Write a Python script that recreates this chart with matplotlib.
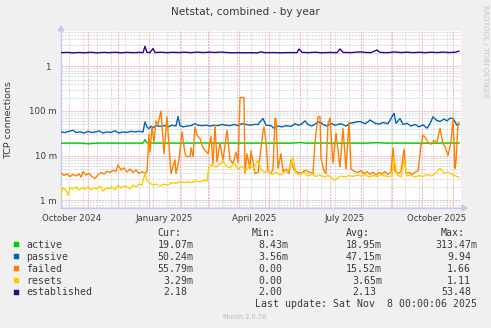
import datetime as dt
import numpy as np
import matplotlib
matplotlib.use("Agg")
import matplotlib.pyplot as plt
from matplotlib.patches import Rectangle, Polygon

# ---------------------------------------------------------------- data
START = dt.datetime(2024, 10, 5)
END = START + dt.timedelta(days=400)

# (day offset from START, value in milli-connections)
active = [(0, 19.0), (10, 19.1), (20, 19.0), (27, 18.4), (35, 19.0), (45, 19.1),
          (55, 19.0), (65, 19.0), (75, 19.1), (82, 19.0), (84, 23.0), (86, 19.3),
          (95, 19.0), (110, 19.1), (125, 19.0), (140, 19.2), (155, 19.0), (170, 19.1),
          (185, 19.0), (200, 19.1), (215, 19.0), (230, 19.0), (239, 19.6), (245, 19.0),
          (260, 19.1), (275, 19.0), (290, 19.1), (305, 19.0), (317, 19.5), (325, 19.0),
          (340, 19.1), (355, 19.0), (370, 19.0), (385, 19.1), (398, 19.07)]

passive = [(0, 34), (4, 33), (8, 35), (12, 37), (15, 33), (19, 34), (23, 32), (27, 35),
           (31, 33), (35, 34), (38, 36), (42, 32), (46, 34), (50, 33), (54, 36), (58, 32),
           (62, 34), (66, 33), (70, 35), (74, 34), (78, 35), (82, 34), (84, 57), (86, 44),
           (88, 40), (90, 46), (92, 42), (95, 47), (99, 45), (103, 47), (107, 44), (111, 48),
           (115, 46), (117, 75), (119, 47), (122, 44), (126, 46), (130, 47), (134, 52),
           (137, 48), (141, 47), (145, 48), (149, 46), (153, 48), (157, 47), (161, 50),
           (165, 48), (169, 47), (173, 50), (177, 47), (181, 52), (185, 50), (189, 48),
           (193, 50), (197, 50), (202, 68), (205, 48), (210, 47), (213, 41), (217, 46),
           (221, 44), (225, 47), (230, 45), (234, 52), (237, 48), (240, 50), (244, 60),
           (247, 50), (251, 46), (255, 53), (259, 57), (262, 50), (266, 46), (270, 53),
           (274, 48), (277, 50), (280, 52), (285, 46), (289, 53), (293, 55), (297, 58),
           (300, 57), (304, 52), (307, 57), (309, 63), (314, 53), (318, 51), (322, 55),
           (327, 52), (333, 89), (335, 53), (339, 68), (342, 50), (346, 53), (350, 46),
           (354, 50), (358, 44), (362, 49), (366, 41), (369, 52), (372, 74), (375, 63),
           (379, 58), (383, 66), (386, 60), (389, 69), (392, 68), (396, 48), (398, 50.24)]

failed = [(0, 4.1), (3, 3.6), (6, 3.9), (9, 3.4), (12, 3.8), (15, 3.5), (18, 3.9), (20, 3.3),
          (22, 4.4), (25, 3.7), (28, 4.0), (31, 3.4), (34, 3.1), (37, 3.7), (40, 4.2),
          (43, 3.9), (46, 4.5), (49, 4.2), (52, 4.7), (55, 4.4), (57, 6.2), (60, 4.8),
          (63, 5.3), (66, 4.3), (69, 5.0), (72, 4.2), (75, 4.8), (78, 4.0), (81, 4.4),
          (84, 4.0), (86, 4.5), (88, 30), (89, 12), (91, 45), (93, 20), (95, 60), (97, 50),
          (99, 80), (100, 100), (103, 11), (106, 74), (110, 4.0), (114, 8.0), (115, 4.0),
          (118, 8.0), (121, 34), (124, 11), (126, 9.5), (129, 9.5), (130, 15), (132, 9.5),
          (134, 44), (136, 29), (139, 24), (142, 15), (147, 11), (150, 27), (152, 6.7),
          (154, 48), (156, 7.3), (159, 19), (162, 8.0), (166, 37), (169, 8.0), (172, 6.7),
          (175, 12), (177, 7.0), (179, 200), (183, 200), (184, 4.0), (186, 11), (189, 5.2),
          (190, 13), (194, 4.0), (197, 4.2), (199, 10), (202, 34), (203, 44), (205, 20),
          (207, 4.5), (210, 4.0), (212, 5.0), (214, 68), (215, 68), (217, 5.2), (220, 11),
          (222, 4.4), (225, 5.0), (228, 4.0), (230, 8.0), (232, 5.5), (234, 4.5), (237, 4.2),
          (240, 4.0), (244, 4.7), (248, 4.3), (252, 4.0), (254, 20), (257, 74), (259, 74),
          (260, 8.7), (263, 4.5), (265, 4.0), (267, 53), (269, 69), (272, 6.8), (275, 32),
          (279, 5.6), (282, 41), (285, 5.0), (288, 57), (290, 5.0), (293, 4.5), (297, 4.2),
          (300, 4.6), (303, 4.0), (306, 4.4), (309, 3.8), (312, 4.3), (315, 3.7), (318, 4.2),
          (321, 3.9), (324, 4.4), (327, 3.8), (330, 4.3), (332, 15), (334, 4.5), (337, 4.0),
          (340, 4.4), (343, 14), (345, 4.0), (348, 4.2), (351, 3.8), (354, 4.3), (357, 4.5),
          (360, 17), (362, 29), (364, 26), (367, 20), (370, 18), (373, 22), (376, 20),
          (379, 41), (382, 18), (384, 16), (387, 10), (390, 20), (392, 68), (394, 5.2),
          (395, 7.3), (397, 53), (398, 55.79)]

resets = [(0, 1.4), (2, 1.9), (5, 1.7), (7, 1.3), (9, 1.9), (12, 1.8), (15, 2.0), (18, 1.7),
          (21, 1.9), (24, 1.8), (27, 2.0), (30, 1.7), (33, 1.9), (36, 1.8), (39, 2.1),
          (42, 1.6), (45, 1.9), (48, 1.8), (51, 2.0), (54, 1.7), (57, 2.2), (60, 1.9),
          (63, 2.1), (66, 2.0), (69, 1.8), (72, 2.2), (75, 2.0), (78, 2.3), (81, 2.2),
          (84, 4.0), (86, 2.8), (89, 2.4), (92, 2.2), (95, 2.3), (99, 2.1), (103, 2.3),
          (107, 2.2), (111, 2.5), (115, 2.4), (119, 2.6), (123, 2.5), (127, 2.6), (131, 2.5),
          (135, 2.7), (139, 2.6), (143, 2.8), (146, 2.7), (148, 5.7), (151, 6.3), (155, 5.5),
          (159, 6.5), (162, 7.6), (165, 6.0), (169, 5.3), (173, 6.8), (177, 5.0), (181, 5.8),
          (185, 4.6), (189, 6.2), (193, 5.2), (197, 8.0), (200, 5.0), (203, 4.2), (207, 4.6),
          (211, 3.8), (215, 4.3), (219, 3.7), (223, 4.2), (227, 4.4), (232, 9.0), (235, 4.0),
          (239, 3.8), (243, 4.2), (247, 3.5), (251, 3.9), (255, 3.4), (259, 3.7), (263, 3.3),
          (267, 3.6), (271, 3.2), (273, 2.8), (276, 3.1), (280, 3.5), (284, 3.3), (288, 3.6),
          (292, 3.4), (296, 3.7), (300, 3.5), (304, 3.8), (308, 3.3), (312, 3.6), (316, 3.4),
          (320, 3.7), (324, 3.5), (328, 3.4), (331, 3.6), (333, 9.0), (336, 3.8), (340, 3.3),
          (343, 8.0), (346, 3.5), (350, 3.7), (354, 3.3), (358, 3.6), (362, 3.4), (366, 3.8),
          (370, 3.5), (374, 3.9), (379, 5.2), (383, 4.0), (387, 4.3), (391, 3.8), (395, 3.5),
          (398, 3.29)]

# established is in whole connections
established = [(0, 2.02), (6, 2.05), (12, 2.0), (18, 2.04), (24, 2.01), (30, 2.06), (36, 2.0),
               (42, 2.05), (48, 2.02), (54, 2.06), (60, 2.01), (66, 2.05), (72, 2.02),
               (78, 2.05), (82, 2.02), (84, 2.8), (86, 2.05), (89, 2.03), (92, 2.5), (94, 2.03),
               (100, 2.07), (106, 2.02), (112, 2.06), (118, 2.03), (124, 2.07), (130, 2.02),
               (136, 2.08), (142, 2.03), (148, 2.07), (154, 2.04), (160, 2.08), (166, 2.03),
               (172, 2.01), (178, 2.02), (184, 2.01), (190, 2.02), (196, 2.0), (200, 2.1),
               (204, 2.02), (212, 2.03), (220, 2.01), (228, 2.03), (236, 2.02), (238, 2.44),
               (241, 2.05), (248, 2.02), (254, 2.07), (260, 2.01), (268, 2.04), (276, 2.02),
               (279, 2.44), (282, 2.05), (290, 2.02), (296, 2.08), (300, 2.1), (304, 2.04),
               (310, 2.02), (316, 2.32), (319, 2.05), (326, 2.02), (334, 2.09), (340, 2.03),
               (346, 2.07), (352, 2.02), (358, 2.06), (364, 2.02), (370, 2.07), (376, 2.03),
               (382, 2.08), (388, 2.03), (394, 2.06), (398, 2.18)]

names = ["active", "passive", "failed", "resets", "established"]
colors = ["#00CC00", "#0066B3", "#FF8000", "#FFCC00", "#330099"]
series = [active, passive, failed, resets, established]
scales = [1e-3, 1e-3, 1e-3, 1e-3, 1.0]

cur = ["19.07m", "50.24m", "55.79m", "3.29m", "2.18"]
mins = ["8.43m", "3.56m", "0.00", "0.00", "2.00"]
avgs = ["18.95m", "47.15m", "15.52m", "3.65m", "2.13"]
maxs = ["313.47m", "9.94", "1.66", "1.11", "53.48"]

ytick_vals = [1e-3, 1e-2, 1e-1, 1.0]
ytick_labels = ["1 m", "10 m", "100 m", "1  "]
xtick_months = [(2024, 10, "October 2024"), (2025, 1, "January 2025"),
                (2025, 4, "April 2025"), (2025, 7, "July 2025"),
                (2025, 10, "October 2025")]

# ---------------------------------------------------------------- figure
W, H = 491, 328
BG = "#F0F0F0"
TXT = "#3A3A3A"
AXIS = "#C4C8F2"
RED = "#F5B8B8"
GRAY = "#DCDCDC"

fig = plt.figure(figsize=(W / 100, H / 100), dpi=100, facecolor=BG)


def fx(px):
    return px / W


def fy(py):
    return 1 - py / H


ax = fig.add_axes([fx(61), fy(208), fx(400), 177 / H])
ax.set_facecolor("white")
ax.set_yscale("log")
ax.set_xlim(START, END)
ax.set_ylim(6.73e-4, 6.17)

DASH = (0, (2, 1))
# grid: minor every two weeks, major at each month
d = dt.datetime(2024, 10, 13)
while d < END:
    ax.axvline(d, color=GRAY, lw=0.75, ls=DASH, zorder=1)
    d += dt.timedelta(days=14)
for y in range(2024, 2026):
    for m in range(1, 13):
        md = dt.datetime(y, m, 1)
        if START < md < END:
            ax.axvline(md, color=RED, lw=0.75, ls=DASH, zorder=1.2)
for e in range(-4, 1):
    for k in range(2, 10):
        ax.axhline(k * 10.0 ** e, color=GRAY, lw=0.75, ls=DASH, zorder=1)
for v in ytick_vals:
    ax.axhline(v, color=RED, lw=0.75, ls=DASH, zorder=1.2)

for s, c, k, z in zip(series, colors, scales, range(5)):
    days = [p[0] for p in s]
    vals = np.array([p[1] for p in s]) * k
    dates = [START + dt.timedelta(days=x) for x in days]
    ax.plot(dates, vals, color=c, lw=1.0, zorder=3 + z)

for sp in ["top", "right"]:
    ax.spines[sp].set_visible(False)
for sp in ["left", "bottom"]:
    ax.spines[sp].set_color(AXIS)
    ax.spines[sp].set_linewidth(1.0)

ax.set_yticks(ytick_vals)
ax.set_yticklabels(ytick_labels)
ax.yaxis.set_minor_locator(matplotlib.ticker.NullLocator())
ax.set_xticks([dt.datetime(y, m, 1) + dt.timedelta(days=15) for y, m, _ in xtick_months])
ax.set_xticklabels([t for _, _, t in xtick_months])
ax.tick_params(axis="both", length=0, labelsize=6.2, colors=TXT)
ax.tick_params(axis="x", pad=4)
ax.tick_params(axis="y", pad=3)

fig.text(fx(9), fy(120), "TCP connections", rotation=90, ha="center", va="center",
         fontsize=6.8, color=TXT)

# axis arrows
fig.patches.append(Polygon([[fx(58), fy(31)], [fx(64), fy(31)], [fx(61), fy(26)]],
                           closed=True, transform=fig.transFigure, color=AXIS))
fig.patches.append(Polygon([[fx(462), fy(205)], [fx(462), fy(211)], [fx(467), fy(208)]],
                           closed=True, transform=fig.transFigure, color=AXIS))

fig.text(fx(245.5), fy(12), "Netstat, combined - by year", ha="center", va="center",
         fontsize=7.6, color=TXT)
fig.text(fx(484.5), fy(5), "RRDTOOL / TOBI OETIKER", ha="center", va="top",
         rotation=-90, fontsize=5.2, color="#C4C4C4")

# legend table
CW = 5.95  # monospace character width, px
mono = dict(family="DejaVu Sans Mono", fontsize=7.1, color=TXT, va="center")
rows_y = [244.5, 256.5, 268.5, 280.5, 292.3]
for hx, h in zip([157.3, 252, 346, 441], ["Cur:", "Min:", "Avg:", "Max:"]):
    fig.text(fx(hx), fy(233), h, **mono)

# decimal point column of each statistic
dp_cols = [169.2, 264.25, 357.9, 452.85]


def start_x(dp, s):
    return dp - len(s.split(".")[0]) * CW


for i, (n, c) in enumerate(zip(names, colors)):
    y = rows_y[i]
    fig.patches.append(Rectangle((fx(14), fy(y + 2.7)), fx(5.4), 5.4 / H,
                                 transform=fig.transFigure, facecolor=c,
                                 edgecolor=c, lw=0.3))
    fig.text(fx(26), fy(y), n, **mono)
    for dp, col in zip(dp_cols, [cur, mins, avgs, maxs]):
        fig.text(fx(start_x(dp, col[i])), fy(y), col[i], **mono)

fig.text(fx(477), fy(304), "Last update: Sat Nov  8 00:00:06 2025", ha="right", **mono)
fig.text(fx(245), fy(316.7), "Munin 2.0.76", ha="center", va="center",
         fontsize=4.8, color="#B8B8B8")

fig.savefig("out.png", dpi=100, facecolor=BG)
